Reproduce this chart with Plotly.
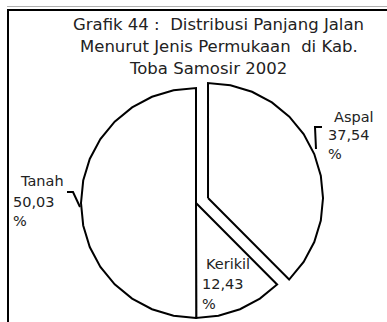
import numpy as np
import plotly.graph_objects as go

# Road length by surface type, Kab. Toba Samosir 2002 (percent)
categories = ["Aspal", "Kerikil", "Tanah"]
shares = [37.54, 12.43, 50.03]
pulled = ["Aspal"]

title_lines = [
    "Grafik 44 :  Distribusi Panjang Jalan",
    "Menurut Jenis Permukaan  di Kab.",
    "Toba Samosir 2002",
]

W, H = 387, 322
CX, CY, R = 196.0, 203.0, 115.0     # pie centre / radius in page pixels
PULL = 13.0                         # explode distance for pulled slices
STEP = 11.25                        # facet size of the arc, degrees

fig = go.Figure()

total = sum(shares)
start = 0.0
for name, v in zip(categories, shares):
    sweep = 360.0 * v / total
    end = start + sweep
    mid = np.radians(start + sweep / 2)
    dx = dy = 0.0
    if name in pulled:
        dx, dy = PULL * np.sin(mid), -PULL * np.cos(mid)
    # arc vertices: slice edges plus facet corners in between
    angs = [start] + [a for a in np.arange(0, 360, STEP) if start < a < end] + [end]
    t = np.radians(angs)
    xs = [CX + dx] + list(CX + dx + R * np.sin(t)) + [CX + dx]
    ys = [CY + dy] + list(CY + dy - R * np.cos(t)) + [CY + dy]
    fig.add_trace(go.Scatter(
        x=xs, y=ys, mode="lines", fill="toself", fillcolor="white",
        line=dict(color="black", width=2), hoverinfo="skip", showlegend=False,
        name=name,
    ))
    start = end

title_font = dict(family="DejaVu Sans", size=16.5, color="#222222")
label_font = dict(family="DejaVu Sans", size=14.5, color="#222222")

# title, three centred lines
for txt, (xc, yc) in zip(title_lines, [(218.5, 24), (218.5, 46.5), (207.5, 68.5)]):
    fig.add_annotation(x=xc, y=yc, text=txt, showarrow=False, xanchor="center",
                       yanchor="middle", font=title_font)

# data labels: name / value / %
label_pos = {
    "Aspal": [(332, 116.5), (326, 135), (326, 154)],
    "Tanah": [(18, 181), (11, 202), (11, 221)],
    "Kerikil": [(204, 264), (200, 284), (200, 304)],
}
for name, v in zip(categories, shares):
    lines = [name, f"{v:.2f}".replace(".", ","), "%"]
    for txt, (xl, yl) in zip(lines, label_pos[name]):
        fig.add_annotation(x=xl, y=yl, text=txt, showarrow=False, xanchor="left",
                           yanchor="middle", font=label_font)

# leader lines
fig.add_shape(type="path", path="M 322 127 L 315 127 L 316 149",
              line=dict(color="black", width=2))
fig.add_shape(type="path", path="M 67 192 L 73 192 L 80 207",
              line=dict(color="black", width=2))

# frame
fig.add_shape(type="line", x0=7, x1=W + 5, y0=6.5, y1=6.5,
              line=dict(color="#b0b0b0", width=1))
fig.add_shape(type="rect", x0=8, x1=W + 10, y0=10, y1=H + 10,
              line=dict(color="black", width=2))

fig.update_layout(
    width=W, height=H, margin=dict(l=0, r=0, t=0, b=0),
    paper_bgcolor="white", plot_bgcolor="white",
    xaxis=dict(range=[0, W], visible=False, fixedrange=True),
    yaxis=dict(range=[H, 0], visible=False, fixedrange=True),
    showlegend=False,
)

fig.write_html("out.html")
